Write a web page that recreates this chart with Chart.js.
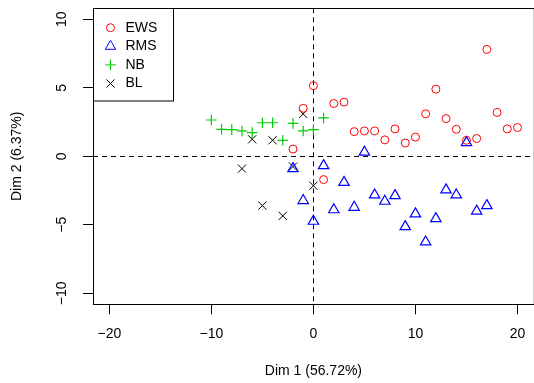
<!DOCTYPE html>
<html>
<head>
<meta charset="utf-8">
<script src="https://cdn.jsdelivr.net/npm/chart.js@4.4.1/dist/chart.umd.min.js"></script>
<style>
    html, body { margin: 0; padding: 0; background: #fff; overflow: hidden; }
    #wrap { width: 534px; height: 383px; overflow: hidden; }
</style>
</head>
<body>
<div id="wrap"><canvas id="grafico" width="541" height="383"></canvas></div>
<script>
// Coordenadas dos grupos nos dois primeiros eixos
const ewsX = [-2, -1, 0, 1, 2, 3, 4, 5, 6, 7, 8, 9, 10, 11, 12, 13, 14, 15, 16, 17, 18, 19, 20];
const ewsY = [0.53, 3.5, 5.15, -1.7, 3.85, 3.95, 1.8, 1.85, 1.85, 1.2, 2.0, 0.97, 1.4, 3.1, 4.9, 2.75, 1.97, 1.17, 1.3, 7.8, 3.2, 2.0, 2.1];

const rmsX = [-2, -1, 0, 1, 2, 3, 4, 5, 6, 7, 8, 9, 10, 11, 12, 13, 14, 15, 16, 17];
const rmsY = [-0.9, -3.23, -4.74, -0.68, -3.9, -1.9, -3.72, 0.3, -2.82, -3.28, -2.87, -5.13, -4.2, -6.25, -4.55, -2.45, -2.82, 1.0, -4.0, -3.6];

const nbX = [-10, -9, -8, -7, -6, -5, -4, -3, -2, -1, 0, 1];
const nbY = [2.65, 1.97, 1.95, 1.85, 1.73, 2.45, 2.45, 1.16, 2.4, 1.85, 1.95, 2.8];

const blX = [-7, -6, -5, -4, -3, -2, -1, 0];
const blY = [-0.9, 1.24, -3.6, 1.17, -4.35, -0.75, 3.09, -2.15];

const grupos = ["EWS", "RMS", "NB", "BL"];
const ticksX = [-20, -10, 0, 10, 20];
const ticksY = [-10, -5, 0, 5, 10];

const fonte = { family: '"Liberation Sans", Arial, sans-serif', size: 14 };
const pontos = (xs, ys) => xs.map((x, i) => ({ x: x, y: ys[i] }));
const menos = v => String(v).replace("-", "\u2212");

// tamanho fixo dos eixos, sem folga extra para os rótulos
const fixaEixo = (s, medida, valor) => {
    s[medida] = valor;
    s.paddingTop = 0; s.paddingBottom = 0;
    s.paddingLeft = 0; s.paddingRight = 0;
};

// linhas tracejadas em zero e moldura do gráfico
const eixosZero = {
    id: "eixosZero",
    beforeDatasetsDraw(chart) {
        const { ctx, chartArea: a, scales } = chart;
        const x0 = Math.round(scales.x.getPixelForValue(0)) + 0.5;
        const y0 = Math.round(scales.y.getPixelForValue(0)) + 0.5;
        ctx.save();
        ctx.strokeStyle = "#000";
        ctx.lineWidth = 1;
        ctx.setLineDash([5, 4]);
        ctx.beginPath();
        ctx.moveTo(a.left, y0); ctx.lineTo(a.right, y0);
        ctx.moveTo(x0, a.top); ctx.lineTo(x0, a.bottom);
        ctx.stroke();
        ctx.setLineDash([]);
        ctx.strokeRect(Math.round(a.left) + 0.5, Math.round(a.top) + 0.5,
                       a.right - a.left, Math.round(a.bottom) - Math.round(a.top));
        ctx.restore();
    }
};

// legenda com caixa no canto superior esquerdo
const legendaCaixa = {
    id: "legendaCaixa",
    afterDraw(chart) {
        const { ctx, chartArea: a } = chart;
        const lx = Math.round(a.left) + 0.5, ly = Math.round(a.top) + 0.5;
        ctx.save();
        ctx.strokeStyle = "#000";
        ctx.lineWidth = 1;
        ctx.fillStyle = "#fff";
        ctx.fillRect(lx, ly, 80, 92.5);
        ctx.strokeRect(lx, ly, 80, 92.5);
        chart.data.datasets.forEach((ds, i) => {
            const cy = ly + 19.2 + i * 18.6;
            ctx.strokeStyle = ds.borderColor;
            ctx.fillStyle = "rgba(0,0,0,0)";
            ctx.lineWidth = 1;
            Chart.helpers.drawPoint(ctx, {
                pointStyle: ds.pointStyle, radius: ds.pointRadius, borderWidth: 1, rotation: 0
            }, lx + 17, cy);
            ctx.fillStyle = "#000";
            ctx.font = `14px ${fonte.family}`;
            ctx.textBaseline = "middle";
            ctx.textAlign = "left";
            ctx.fillText(ds.label, lx + 32, cy);
        });
        ctx.restore();
    }
};

new Chart(document.getElementById("grafico"), {
    type: "scatter",
    data: {
        datasets: [
            { label: grupos[0], data: pontos(ewsX, ewsY), pointStyle: "circle", pointRadius: 4,
              borderColor: "#ff0000", backgroundColor: "rgba(0,0,0,0)", borderWidth: 1 },
            { label: grupos[1], data: pontos(rmsX, rmsY), pointStyle: "triangle", pointRadius: 6,
              borderColor: "#0000ff", backgroundColor: "rgba(0,0,0,0)", borderWidth: 1.2 },
            { label: grupos[2], data: pontos(nbX, nbY), pointStyle: "cross", pointRadius: 5.3,
              borderColor: "#00cd00", backgroundColor: "rgba(0,0,0,0)", borderWidth: 1.2 },
            { label: grupos[3], data: pontos(blX, blY), pointStyle: "crossRot", pointRadius: 5.8,
              borderColor: "#000000", backgroundColor: "rgba(0,0,0,0)", borderWidth: 1 }
        ]
    },
    options: {
        responsive: false,
        animation: false,
        devicePixelRatio: 1,
        layout: { padding: { top: 8.3, right: 0.6, bottom: 0, left: 0 } },
        plugins: { legend: { display: false }, tooltip: { enabled: false } },
        scales: {
            x: {
                type: "linear", min: -21.6, max: 21.6,
                afterBuildTicks: s => { s.ticks = ticksX.map(v => ({ value: v })); },
                afterFit: s => fixaEixo(s, "height", 78.7),
                grid: { drawOnChartArea: false, drawTicks: true, tickLength: 10, color: "#000", lineWidth: 1 },
                border: { display: false },
                ticks: { color: "#000", font: fonte, padding: 11, maxRotation: 0, autoSkip: false, callback: menos },
                title: { display: true, text: "Dim 1 (56.72%)", color: "#000", font: fonte, padding: { top: 0, bottom: 3 } }
            },
            y: {
                type: "linear", min: -10.8, max: 10.8,
                afterBuildTicks: s => { s.ticks = ticksY.map(v => ({ value: v })); },
                afterFit: s => fixaEixo(s, "width", 93),
                grid: { drawOnChartArea: false, drawTicks: true, tickLength: 10, color: "#000", lineWidth: 1 },
                border: { display: false },
                ticks: { color: "#000", font: fonte, padding: 9, minRotation: 90, maxRotation: 90,
                         crossAlign: "center", autoSkip: false, callback: menos },
                title: { display: true, text: "Dim 2 (6.37%)", color: "#000", font: fonte, padding: { top: 8.6, bottom: 0 } }
            }
        }
    },
    plugins: [eixosZero, legendaCaixa]
});
</script>
</body>
</html>
